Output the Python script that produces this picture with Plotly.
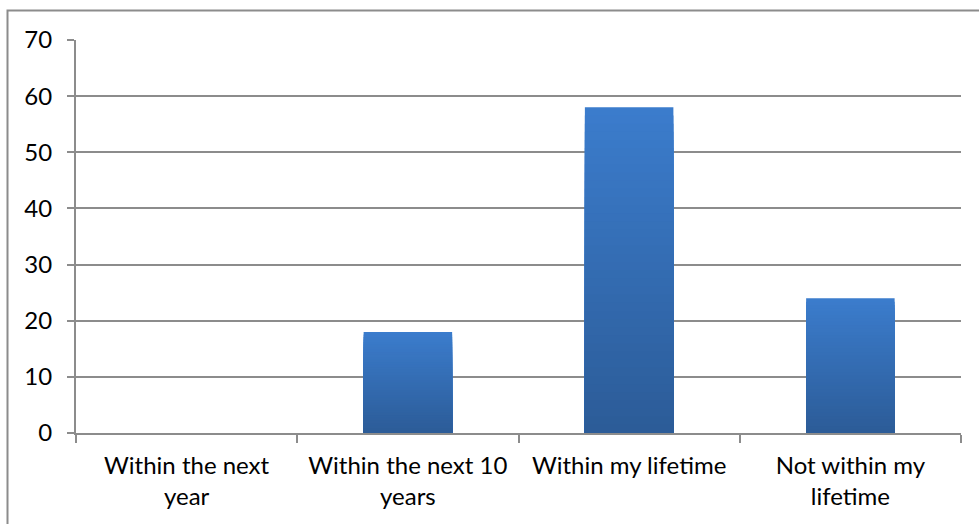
import plotly.graph_objects as go

# Survey responses: when do you expect it to happen?
categories = ["Within the next<br>year", "Within the next 10<br>years",
              "Within my lifetime", "Not within my<br>lifetime"]
values = [0, 18, 58, 24]
y_ticks = [0, 10, 20, 30, 40, 50, 60, 70]

# Vertical gradient for each bar: light blue at the top, darker at the base
top_rgb = (59, 124, 204)
bottom_rgb = (44, 92, 152)
steps = 40

fig = go.Figure()
for k in range(steps):
    t = k / (steps - 1)
    rgb = tuple(round(a + (b - a) * t) for a, b in zip(top_rgb, bottom_rgb))
    frac = (steps - k) / steps
    fig.add_trace(go.Bar(
        x=categories,
        y=[v * frac for v in values],
        width=0.4,
        marker=dict(color="rgb(%d,%d,%d)" % rgb, line=dict(width=0)),
        hoverinfo="skip",
        showlegend=False,
    ))

grid = "#8c8c8c"
fig.update_layout(
    width=979, height=524,
    barmode="overlay",
    paper_bgcolor="white", plot_bgcolor="white",
    margin=dict(l=76, r=18, t=40, b=91),
    font=dict(family="Lato, Open Sans, sans-serif", size=24, color="black"),
    xaxis=dict(
        type="category",
        showline=True, linecolor=grid, linewidth=2,
        ticks="outside", ticklen=8, tickcolor=grid, tickwidth=2,
        tickson="boundaries",
        showgrid=False,
        range=[-0.5, 3.5],
        ticklabelstandoff=10,
        tickfont=dict(size=24),
    ),
    yaxis=dict(
        range=[0, 70],
        tickvals=y_ticks,
        showline=True, linecolor=grid, linewidth=2,
        ticks="outside", ticklen=7, tickcolor=grid, tickwidth=2,
        showgrid=True, gridcolor=grid, gridwidth=1.5,
        zeroline=False,
        ticklabelstandoff=10,
        tickfont=dict(size=24),
    ),
    shapes=[dict(
        type="rect", xref="paper", yref="paper",
        x0=-0.0774, x1=1.03, y0=-0.25, y1=1.075,
        line=dict(color="#8c8c8c", width=2), fillcolor="rgba(0,0,0,0)",
        layer="below",
    )],
)

fig.write_html("out.html")
